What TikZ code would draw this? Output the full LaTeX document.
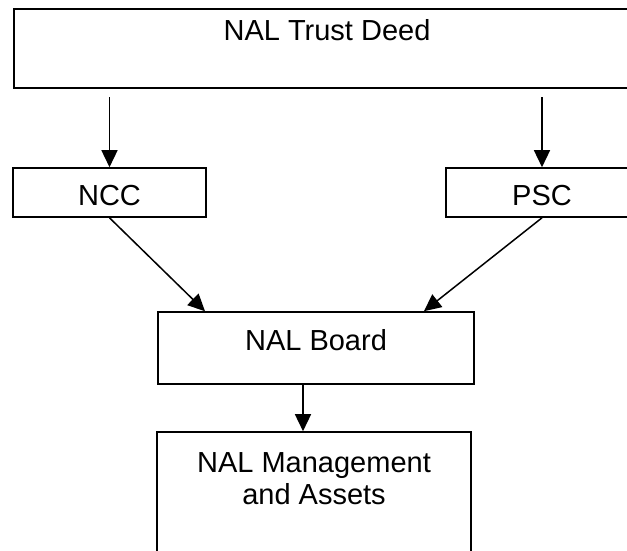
\documentclass[tikz,border=0pt]{standalone}
\usepackage{fontspec}
\setmainfont{Liberation Sans}
\usetikzlibrary{arrows.meta}
\tikzset{
  box/.style={draw, line width=1.6pt, inner sep=0pt, align=center},
  link/.style={->, line width=1.5pt}
}
\begin{document}
\begin{tikzpicture}[x=1pt, y=-1pt, font=\fontsize{29}{32}\selectfont, line join=miter, >={Triangle[length=17pt,width=16pt]}]
\useasboundingbox (0,0) rectangle (627,550);
\clip (0,0) rectangle (627,550);
\node[box, line width=2.5pt, minimum width=626pt, text height=31pt, text depth=48pt] (deed) at (327,48.5) {NAL Trust Deed};
\node[box, minimum width=193pt, text height=37pt, text depth=12pt] (ncc) at (109.5,192.5) {NCC};
\node[box, minimum width=192pt, text height=37pt, text depth=12pt] (psc) at (542,192.5) {PSC};
\node[box, minimum width=316pt, text height=38pt, text depth=34pt] (board) at (316,348) {NAL Board};
\node[box, minimum width=314pt, text height=72pt, text depth=96pt] (mgmt) at (314,516) {NAL Management\\and Assets};
\coordinate (boardL) at ([xshift=-111pt]board.north);
\coordinate (boardR) at ([xshift=108pt]board.north);
\coordinate (boardS) at ([xshift=-13pt]board.south);
\draw[link, shorten <=8pt] (ncc.north |- deed.south) -- (ncc.north);
\draw[link, shorten <=8pt] (psc.north |- deed.south) -- (psc.north);
\draw[link] (ncc.south) -- (boardL);
\draw[link] (psc.south) -- (boardR);
\draw[link] (boardS) -- (boardS |- mgmt.north);
\end{tikzpicture}
\end{document}
